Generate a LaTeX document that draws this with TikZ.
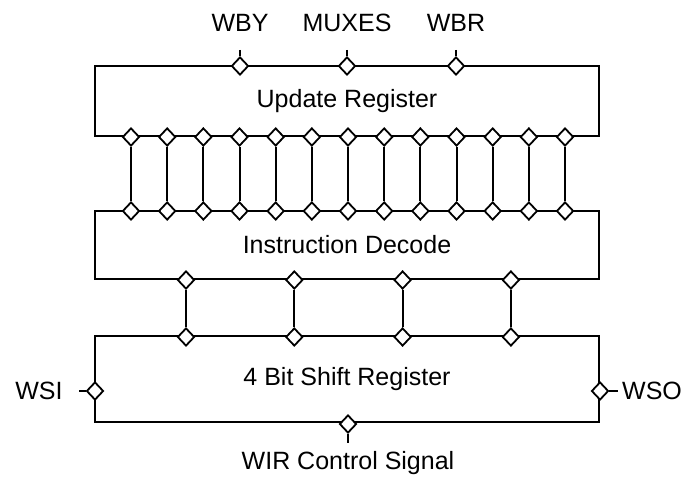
\documentclass[tikz,border=0pt]{standalone}
\usepackage{fontspec}
\setmainfont{Liberation Sans}
\usetikzlibrary{shapes.geometric}
\begin{document}
\begin{tikzpicture}[x=1pt,y=-1pt,line width=2pt,
  blockbox/.style={draw,rectangle,minimum width=504pt,inner sep=0pt,font=\fontsize{25}{30}\selectfont},
  port/.style={draw,diamond,fill=white,minimum width=17pt,minimum height=18pt,inner sep=0pt,line width=1.8pt},
  sig/.style={font=\fontsize{25}{30}\selectfont,inner sep=0pt},
  wire/.style={line width=2pt}]
\useasboundingbox (0,0) rectangle (693,484);

% three blocks
\node[blockbox,minimum height=70pt] (upd) at (347,101) {Update Register};
\node[blockbox,minimum height=68pt] (dec) at (347,245) {Instruction Decode};
\node[blockbox,minimum height=86pt] (sr)  at (347,379) {4 Bit Shift Register};

% control inputs on top of the update register
\foreach \n/\x/\t in {wby/240/WBY, mux/347/MUXES, wbr/456/WBR}{
  \node[port] (\n) at (\x,66) {};
  \coordinate (\n top) at (\x,50);
  \draw[wire] (\n top) -- (\n.north);
  \node[sig] (\n lbl) at (\x,23) {\t};
}

% 13 parallel lines between update register and decoder
\foreach \i in {0,...,12}{
  \pgfmathsetmacro{\xx}{131+36.17*\i}
  \node[port] (u\i) at (\xx,137) {};
  \node[port] (d\i) at (\xx,211) {};
  \draw[wire] (u\i.south) -- (d\i.north);
}

% 4 lines between decoder and shift register
\foreach \i in {0,...,3}{
  \pgfmathsetmacro{\xx}{186+108.3*\i}
  \node[port] (b\i) at (\xx,280) {};
  \node[port] (s\i) at (\xx,337) {};
  \draw[wire] (b\i.south) -- (s\i.north);
}

% serial in / out
\node[port] (wsi) at (95,391) {};
\coordinate (wsi end) at (79,391);
\draw[wire] (wsi end) -- (wsi.west);
\node[sig] (wsi lbl) at (39,391) {WSI};

\node[port] (wso) at (600,391) {};
\coordinate (wso end) at (618,391);
\draw[wire] (wso.east) -- (wso end);
\node[sig] (wso lbl) at (652,391) {WSO};

% control signal at the bottom
\node[port] (wir) at (348,424) {};
\coordinate (wir end) at (348,443);
\draw[wire] (wir.south) -- (wir end);
\node[sig] (wir lbl) at (348,463) {WIR Control Signal};
\end{tikzpicture}
\end{document}
